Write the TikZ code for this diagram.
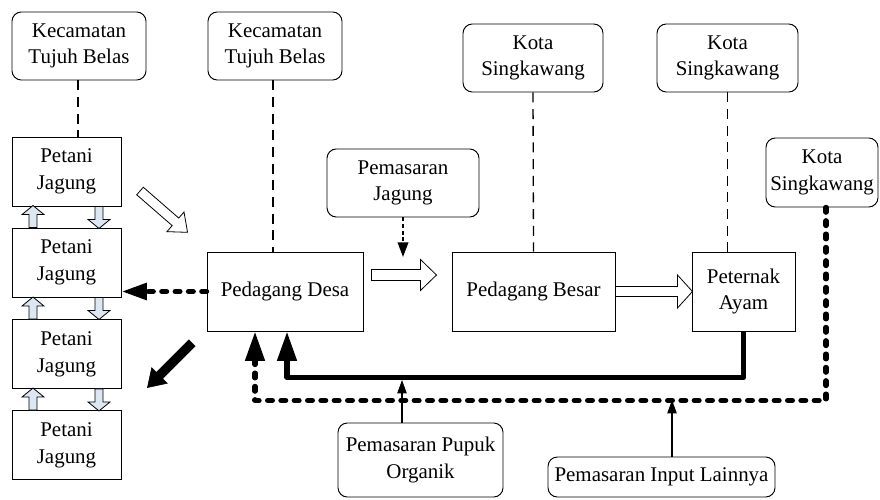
\documentclass[tikz,border=0pt]{standalone}
\usepackage{fontspec}
\setmainfont{Liberation Serif}
\usetikzlibrary{arrows.meta,calc}
\definecolor{lightblue}{RGB}{221,231,243}

% block arrow: tail, angle, length, half shaft, half head, head length, style
\newcommand{\blockarrow}[7]{%
  \begin{scope}[shift={#1}, rotate=#2]
    \draw[#7] (0,-#4) -- ({#3-#6},-#4) -- ({#3-#6},-#5) -- (#3,0)
      -- ({#3-#6},#5) -- ({#3-#6},#4) -- (0,#4) -- cycle;
  \end{scope}}

\begin{document}
\begin{tikzpicture}[x=0.75pt, y=-0.75pt, font=\fontsize{15.7}{20}\selectfont]
    \tikzstyle{actor}=[draw, align=center, inner sep=2pt, line width=0.7pt]
    \tikzstyle{region}=[actor, rounded corners=7pt]
    \tikzstyle{link}=[line width=1pt, dash pattern=on 7.5pt off 5pt]
    \tikzstyle{mainflow}=[line width=4pt, line join=round, -{Triangle[length=22pt,width=14pt]}]
    \tikzstyle{sideflow}=[mainflow, line cap=round, dash pattern=on 3.5pt off 6.5pt]
    \tikzstyle{input}=[line width=0.8pt, -{Triangle[length=10pt,width=7pt]}]

    \useasboundingbox (0,0) rectangle (880,499);

    % draw regions
    \node [region, minimum width=100.5pt, minimum height=51pt] (kec1) at (79,46) {Kecamatan\\Tujuh Belas};
    \node [region, minimum width=100.5pt, minimum height=51pt] (kec2) at (275,46) {Kecamatan\\Tujuh Belas};
    \node [region, minimum width=105pt, minimum height=51pt] (kota1) at (533,58) {Kota\\Singkawang};
    \node [region, minimum width=105.75pt, minimum height=51pt] (kota2) at (727.5,58) {Kota\\Singkawang};
    \node [region, minimum width=84pt, minimum height=51.75pt, inner sep=1pt] (kota3) at (822,172.5) {Kota\\Singkawang};
    \node [region, minimum width=114pt, minimum height=51pt] (pjagung) at (403,183) {Pemasaran\\Jagung};
    \node [region, minimum width=123.75pt, minimum height=55.5pt] (pupuk) at (420.5,460) {Pemasaran Pupuk\\Organik};
    \node [region, minimum width=170.25pt, minimum height=30pt] (lain) at (661.5,477) {Pemasaran Input Lainnya};

    % draw actors
    \foreach \y [count=\i] in {171.5,262.5,354,445}
    \node [actor, minimum width=81.75pt, minimum height=51.75pt] (petani-\i) at (66.5,\y) {Petani\\Jagung};

    \node [actor, minimum width=117pt, minimum height=59.25pt] (desa) at (285,291.5) {Pedagang Desa};
    \node [actor, minimum width=122.25pt, minimum height=59.25pt] (besar) at (533.5,291.5) {Pedagang Besar};
    \node [actor, minimum width=77.25pt, minimum height=59.25pt] (ayam) at (743.5,291.5) {Peternak\\Ayam};

    \coordinate (jagung-tip) at (403,257);
    \coordinate (pupuk-tip) at (402,380);
    \coordinate (lain-tip) at (672,400);

    % draw links
    \draw [link] (kec1.south -| 78,0) -- (petani-1.north -| 78,0);
    \draw [link] (kec2.south -| 273,0) -- (desa.north -| 273,0);
    \draw [link] (kota1.south) -- (besar.north);
    \draw [link] (kota2.south) -- (kota2.south |- ayam.north);
    \draw [line width=1.2pt, dash pattern=on 3pt off 2pt, -{Triangle[length=11pt,width=8pt]}] (pjagung.south) -- (jagung-tip);

    % draw flows
    \draw [sideflow, -{Triangle[length=19pt,width=12pt]}] (desa.west) -- (desa.west -| petani-2.east);
    \draw [mainflow] (ayam.south) -- ++(0,46) -| ($(desa.south)+(2,0)$);
    \draw [sideflow] ($(kota3.south)+(4,0)$) -- ++(0,193) -| ($(desa.south)+(-30,0)$);
    \draw [input] (pupuk.north -| pupuk-tip) -- (pupuk-tip);
    \draw [input] (lain.north -| lain-tip) -- (lain-tip);

    % draw block arrows
    \foreach \i [count=\j from 2] in {1,2,3} {
    \blockarrow{($(petani-\j.north)+(-33.5,0)$)}{90}{22}{4}{11}{9}{draw, fill=lightblue, line width=0.6pt}
    \blockarrow{($(petani-\i.south)+(32.5,0)$)}{-90}{22}{4}{11}{9}{draw, fill=lightblue, line width=0.6pt}
    }
    \blockarrow{(140,191)}{-41}{63}{5}{13}{16}{draw, fill=white, line width=0.6pt}
    \blockarrow{($(desa.east)+(8,-16.5)$)}{0}{65}{5.5}{15.5}{16}{draw, fill=white, line width=0.6pt}
    \blockarrow{(besar.east)}{0}{77}{5}{16.5}{15}{draw, fill=white, line width=0.6pt}
    \blockarrow{(192,343)}{-135}{63}{4.5}{11}{17}{fill=black}
\end{tikzpicture}
\end{document}
